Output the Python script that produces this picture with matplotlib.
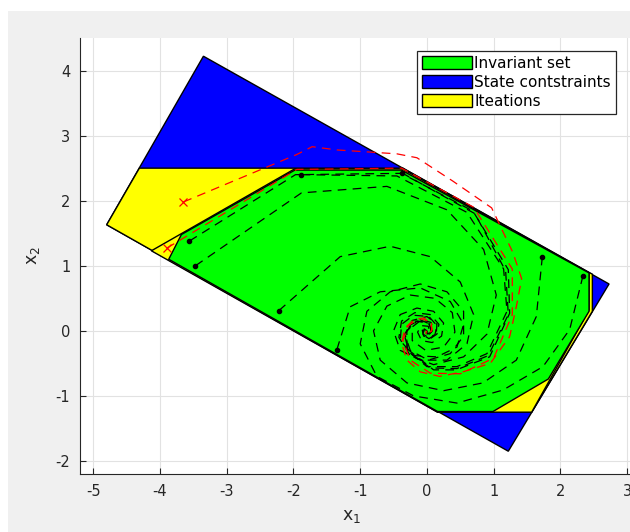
import matplotlib
matplotlib.use('Agg')
import matplotlib.pyplot as plt
from matplotlib.patches import Polygon, Patch, Rectangle

# ---- data ----
STATE_SET = [(-4.80, 1.63), (-3.35, 4.22), (2.73, 0.72), (1.22, -1.85)]
ITER_1 = [(-4.80, 1.63), (-4.31, 2.50), (-0.36, 2.50), (2.48, 0.87),
          (2.48, 0.30), (1.57, -1.25), (0.16, -1.25)]
ITER_2 = [(-4.13, 1.23), (-1.98, 2.49), (-0.37, 2.49), (2.43, 0.89),
          (2.43, 0.32), (1.57, -1.25), (0.16, -1.25)]
INV_SET = [(-3.87, 1.10), (-3.68, 1.48), (-1.98, 2.47), (-0.38, 2.47),
           (2.43, 0.89), (2.43, 0.30), (1.82, -0.74), (0.99, -1.24),
           (0.16, -1.24)]

# black trajectories (start inside the invariant set)
TRAJ = [
    [(-3.56, 1.38), (-1.97, 2.40), (-0.38, 2.42), (0.69, 1.84), (1.22, 0.94),
     (1.24, 0.27), (0.94, -0.40), (0.44, -0.60), (0.10, -0.60), (-0.28, -0.29),
     (-0.33, -0.09), (-0.25, 0.09), (-0.10, 0.17), (0.05, 0.10), (0.06, -0.02),
     (0.00, -0.05), (-0.03, -0.01), (0.0, 0.0)],
    [(-1.88, 2.40), (-0.45, 2.38), (0.60, 1.82), (1.15, 0.95), (1.20, 0.30),
     (0.90, -0.35), (0.45, -0.55), (0.00, -0.55), (-0.30, -0.30), (-0.30, 0.00),
     (-0.15, 0.15), (0.03, 0.12), (0.07, 0.00), (0.01, -0.05), (0.0, 0.0)],
    [(-0.38, 2.43), (0.72, 1.80), (1.18, 0.92), (1.22, 0.25), (0.92, -0.38),
     (0.45, -0.58), (0.05, -0.57), (-0.29, -0.31), (-0.31, -0.02), (-0.18, 0.15),
     (0.02, 0.13), (0.07, 0.01), (0.01, -0.05), (0.0, 0.0)],
    [(-3.47, 1.00), (-1.88, 2.12), (-0.60, 2.22), (0.30, 1.86), (0.85, 1.25),
     (1.04, 0.55), (0.90, -0.05), (0.55, -0.40), (0.10, -0.52), (-0.25, -0.38),
     (-0.42, -0.10), (-0.38, 0.15), (-0.18, 0.28), (0.05, 0.25), (0.18, 0.10),
     (0.15, -0.05), (0.05, -0.12), (-0.05, -0.08), (-0.07, 0.01), (0.0, 0.0)],
    [(-2.22, 0.31), (-1.30, 1.14), (-0.55, 1.30), (0.05, 1.14), (0.50, 0.75),
     (0.70, 0.25), (0.60, -0.20), (0.30, -0.45), (-0.10, -0.45), (-0.40, -0.30),
     (-0.50, 0.00), (-0.40, 0.25), (-0.15, 0.35), (0.10, 0.30), (0.25, 0.12),
     (0.22, -0.08), (0.08, -0.18), (-0.08, -0.15), (-0.14, -0.02), (-0.08, 0.08),
     (0.02, 0.07), (0.04, 0.00), (0.0, 0.0)],
    [(-1.35, -0.29), (-1.15, 0.37), (-0.70, 0.60), (-0.10, 0.66), (0.35, 0.45),
     (0.55, 0.10), (0.45, -0.25), (0.15, -0.40), (-0.20, -0.38), (-0.40, -0.15),
     (-0.38, 0.10), (-0.20, 0.24), (0.03, 0.22), (0.15, 0.08), (0.12, -0.06),
     (0.02, -0.10), (-0.06, -0.05), (-0.04, 0.03), (0.0, 0.0)],
    [(1.73, 1.14), (1.64, 0.22), (1.34, -0.45), (0.84, -0.80), (0.25, -0.92),
     (-0.30, -0.80), (-0.70, -0.45), (-0.80, 0.00), (-0.60, 0.38), (-0.25, 0.55),
     (0.12, 0.50), (0.38, 0.28), (0.42, -0.02), (0.25, -0.25), (-0.02, -0.30),
     (-0.22, -0.15), (-0.22, 0.06), (-0.08, 0.17), (0.06, 0.13), (0.10, 0.02),
     (0.04, -0.05), (-0.02, -0.03), (0.0, 0.0)],
    [(2.34, 0.85), (2.14, 0.02), (1.74, -0.55), (1.14, -0.91), (0.45, -1.11),
     (-0.20, -1.00), (-0.75, -0.70), (-1.00, -0.20), (-0.90, 0.30), (-0.55, 0.60),
     (-0.10, 0.72), (0.30, 0.60), (0.55, 0.30), (0.55, -0.08), (0.35, -0.35),
     (0.02, -0.45), (-0.25, -0.30), (-0.33, -0.05), (-0.22, 0.16), (0.00, 0.22),
     (0.15, 0.10), (0.14, -0.05), (0.03, -0.12), (-0.06, -0.06), (-0.04, 0.03),
     (0.0, 0.0)],
]

# red trajectories (start outside the invariant set)
RED_TRAJ = [
    [(-3.65, 1.98), (-1.95, 2.71), (-1.72, 2.83), (-1.35, 2.78), (-0.45, 2.72),
     (-0.15, 2.66), (0.39, 2.30), (0.97, 1.89), (1.29, 1.20), (1.42, 0.80),
     (1.34, 0.37), (1.24, -0.09), (0.95, -0.50), (0.54, -0.63), (0.19, -0.70),
     (-0.10, -0.63), (-0.30, -0.45), (-0.38, -0.19), (-0.33, 0.04), (-0.20, 0.17),
     (-0.05, 0.20), (0.07, 0.12), (0.07, -0.01), (0.02, -0.06), (-0.02, -0.03),
     (0.0, 0.0)],
    [(-3.90, 1.27), (-1.95, 2.48), (-0.38, 2.50), (0.70, 1.90), (1.28, 0.95),
     (1.28, 0.25), (1.00, -0.42), (0.50, -0.66), (0.05, -0.65), (-0.25, -0.45),
     (-0.36, -0.15), (-0.28, 0.08), (-0.12, 0.19), (0.04, 0.15), (0.08, 0.02),
     (0.02, -0.05), (0.0, 0.0)],
]

X_TICKS = [-5, -4, -3, -2, -1, 0, 1, 2, 3]
Y_TICKS = [-2, -1, 0, 1, 2, 3, 4]
LEGEND_LABELS = ['Invariant set', 'State contstraints', 'Iteations']

AX_COL = '#262626'

plt.rcParams.update({'font.family': 'DejaVu Sans', 'font.size': 10,
                     'axes.unicode_minus': False})
fig = plt.figure(figsize=(6.3, 5.32), dpi=100, facecolor='white')
# grey figure area (the screenshot has a thin white margin top/left)
fig.patches.append(Rectangle((8 / 630, 0), 1, (532 - 11) / 532,
                             transform=fig.transFigure, facecolor='#f0f0f0',
                             edgecolor='none', zorder=-10))

W, H = 630, 532
left, right, top, bottom = 80, 640.4, 38, 474
ax = fig.add_axes([left / W, 1 - bottom / H, (right - left) / W, (bottom - top) / H])
ax.set_facecolor('white')

ax.add_patch(Polygon(STATE_SET, closed=True, facecolor='#0000ff', edgecolor='black', lw=1.0, zorder=2))
ax.add_patch(Polygon(ITER_1, closed=True, facecolor='#ffff00', edgecolor='black', lw=1.0, zorder=3))
ax.add_patch(Polygon(ITER_2, closed=True, facecolor='#ffff00', edgecolor='black', lw=1.0, zorder=4))
ax.add_patch(Polygon(INV_SET, closed=True, facecolor='#00ff00', edgecolor='black', lw=1.0, zorder=5))

for tr in TRAJ:
    xs, ys = zip(*tr)
    ax.plot(xs, ys, color='black', lw=0.9, dashes=(7, 5), zorder=6)
    ax.plot(xs[0], ys[0], 'o', color='black', markersize=3, zorder=7)

for tr in RED_TRAJ:
    xs, ys = zip(*tr)
    ax.plot(xs, ys, color='red', lw=0.9, dashes=(7, 5), zorder=8)
    ax.plot(xs[0], ys[0], 'x', color='red', markersize=6, mew=0.9, zorder=9)

ax.set_xlim(-5.2, 3.2)
ax.set_ylim(-2.2, 4.5)
ax.set_xticks(X_TICKS)
ax.set_yticks(Y_TICKS)
ax.grid(True, color='#e2e2e2', lw=0.8)
ax.set_axisbelow(True)
ax.tick_params(direction='in', length=4, width=0.8, colors=AX_COL, labelsize=10.5,
               pad=7)
for b in ['top', 'right']:
    ax.spines[b].set_visible(False)
for b in ['left', 'bottom']:
    ax.spines[b].set_color(AX_COL)
    ax.spines[b].set_linewidth(0.8)

ax.set_xlabel('x$_1$', fontsize=12.5, color=AX_COL)
ax.set_ylabel('x$_2$', fontsize=12.5, color=AX_COL)
ax.xaxis.set_label_coords((352 - left) / (right - left), -(507 - bottom) / (bottom - top), transform=ax.transAxes)
ax.yaxis.set_label_coords(-(80 - 42) / (right - left), 0.5, transform=ax.transAxes)

handles = [Patch(facecolor='#00ff00', edgecolor='black', lw=1.0),
           Patch(facecolor='#0000ff', edgecolor='black', lw=1.0),
           Patch(facecolor='#ffff00', edgecolor='black', lw=1.0)]
leg = ax.legend(handles, LEGEND_LABELS, loc='upper left',
                bbox_to_anchor=((417 - left) / (right - left), (bottom - 51) / (bottom - top)),
                fancybox=False, framealpha=1, edgecolor='#262626',
                handlelength=3.3, handleheight=0.95, handletextpad=0.15,
                labelspacing=0.28, borderpad=0.3, borderaxespad=0, fontsize=11)
leg.get_frame().set_linewidth(0.9)
leg.set_zorder(20)

fig.savefig('out.png', dpi=100, facecolor=fig.get_facecolor())
